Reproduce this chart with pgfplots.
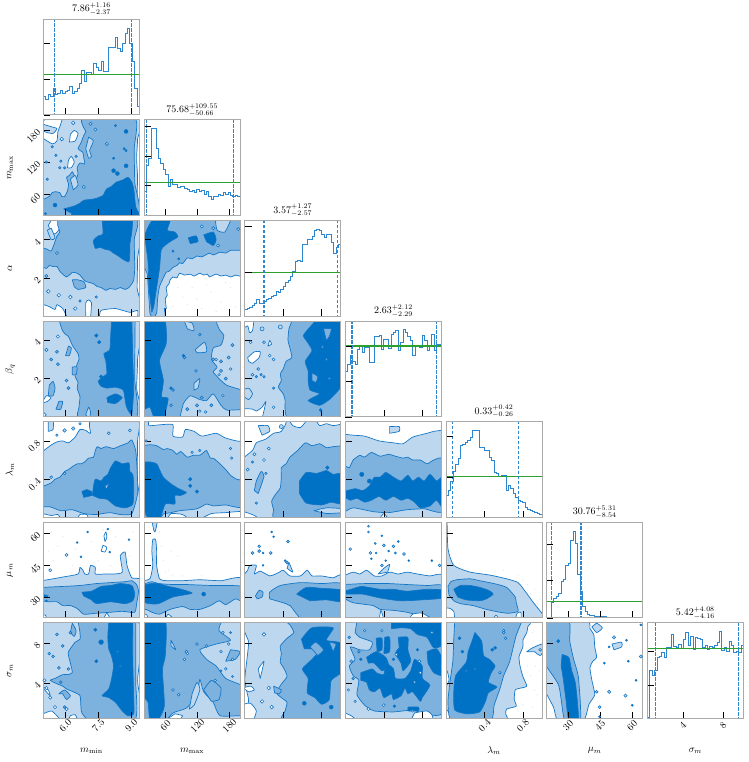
\documentclass[border=0pt]{standalone}
\usepackage{pgfplots}
\pgfplotsset{compat=1.18}
\definecolor{cL}{RGB}{189,215,238}
\definecolor{cM}{RGB}{125,178,222}
\definecolor{cD}{RGB}{0,114,197}
\definecolor{cl}{RGB}{20,118,198}
\definecolor{ch}{RGB}{45,135,208}
\definecolor{cg}{RGB}{44,160,44}
\definecolor{cS}{RGB}{215,230,245}
\definecolor{fr}{RGB}{170,170,170}
\pgfplotsset{
 base/.style={scale only axis,width=96pt,height=95.6pt,anchor=south west,axis on top,
  tick align=inside,major tick length=6.7pt,xtick pos=bottom,ytick pos=left,
  tick style={black,line width=.5pt},axis line style={draw=fr,line width=1pt},
  xticklabels={},yticklabels={},minor tick num=0,
  xticklabel style={yshift=-7pt,rotate=45,anchor=center,font=\fontsize{10}{12}\selectfont},
  yticklabel style={xshift=-2pt,yshift=2pt,rotate=45,anchor=east,font=\fontsize{10}{12}\selectfont},
  every axis x label/.style={at={(axis description cs:0.5,0)},yshift=-32pt,anchor=center},
  every axis y label/.style={at={(axis description cs:0,0.5)},xshift=-33.5pt,rotate=90,anchor=center},
  title style={at={(0.5,1)},yshift=-5.5pt,anchor=south},
 },
 pos/.style 2 args={at={({(43.5+#1*100.65)*1pt},{(762-115-#2*100.6)*1pt})}},
 cx0/.style={xmin=5,xmax=9.37,xtick={6,7.5,9},x filter/.expression={5+x*0.0437}},
 cx1/.style={xmin=20,xmax=200,xtick={60,120,180},x filter/.expression={20+x*1.8}},
 cx2/.style={xmin=0,xmax=5,xtick={2,4},x filter/.expression={x*0.05}},
 cx3/.style={xmin=0,xmax=5,xtick={2,4},x filter/.expression={x*0.05}},
 cx4/.style={xmin=0,xmax=1,xtick={0.4,0.8},x filter/.expression={x*0.01}},
 cx5/.style={xmin=20,xmax=65,xtick={30,45,60},x filter/.expression={20+x*0.45}},
 cx6/.style={xmin=0.5,xmax=10,xtick={4,8},x filter/.expression={0.5+x*0.095}},
 cy1/.style={ymin=20,ymax=200,ytick={60,120,180},y filter/.expression={20+y*1.8}},
 cy2/.style={ymin=0,ymax=5,ytick={2,4},y filter/.expression={y*0.05}},
 cy3/.style={ymin=0,ymax=5,ytick={2,4},y filter/.expression={y*0.05}},
 cy4/.style={ymin=0,ymax=1,ytick={0.4,0.8},y filter/.expression={y*0.01}},
 cy5/.style={ymin=20,ymax=65,ytick={30,45,60},y filter/.expression={20+y*0.45}},
 cy6/.style={ymin=0.5,ymax=10,ytick={4,8},y filter/.expression={0.5+y*0.095}},
 dg/.style={ymin=0,ymax=100},
 cn/.style={draw=cl,line width=.7pt,line join=round,smooth,tension=.35,forget plot},
}
\newcommand\Lt[1]{\addplot[cn,fill=cL] coordinates {#1} -- cycle;}
\newcommand\Md[1]{\addplot[cn,fill=cM] coordinates {#1} -- cycle;}
\newcommand\Dk[1]{\addplot[cn,fill=cD] coordinates {#1} -- cycle;}
\newcommand\Wh[1]{\addplot[cn,fill=white] coordinates {#1} -- cycle;}
\newcommand\dW[2]{\addplot[only marks,forget plot,mark=*,mark size=#1,mark options={draw=cl,fill=white,line width=.6pt}] coordinates {#2};}
\newcommand\dL[2]{\addplot[only marks,forget plot,mark=*,mark size=#1,mark options={draw=cl,fill=cL,line width=.6pt}] coordinates {#2};}
\newcommand\dM[2]{\addplot[only marks,forget plot,mark=*,mark size=#1,mark options={draw=cl,fill=cM,line width=.6pt}] coordinates {#2};}
\newcommand\dD[2]{\addplot[only marks,forget plot,mark=*,mark size=#1,mark options={draw=cl,fill=cD,line width=.4pt}] coordinates {#2};}
\newcommand\Sc[1]{\addplot[only marks,forget plot,mark=*,mark size=.5,mark options={draw=cS,fill=cS,line width=.1pt}] coordinates {#1};}
\newcommand\Hh[4]{%
 \addplot[const plot,draw=ch,line width=.95pt,forget plot] coordinates {#1};
 \addplot[cg,line width=1.1pt,forget plot] coordinates {(-2,#2)(102,#2)};
 \addplot[ch,line width=1.1pt,dash pattern=on 3.5pt off 1.5pt,forget plot] coordinates {(#3,-2)(#3,102)};
 \addplot[ch,line width=1.1pt,dash pattern=on 3.5pt off 1.5pt,forget plot] coordinates {(#4,-2)(#4,102)};
}
\begin{document}
\begin{tikzpicture}
\useasboundingbox (0,0) rectangle (748pt,762pt);
% ---------- diagonal
\begin{axis}[base,pos={0}{0},cx0,dg,ytick={0,37.5,75},title={$7.86^{+1.16}_{-2.37}$}]
\Hh{(0,19)(2.5,16)(5,21)(7.5,19)(10,28)(12.5,21)(15,23)(17.5,26)(20,23)(22.5,25)(25,26)(27.5,30)(30,23)(32.5,25)(35,28)(37.5,33)(40,47)(42.5,35)(45,44)(47.5,44)(50,42)(52.5,54)(55,50)(57.5,47)(60,56)(62.5,46)(65,46)(67.5,71)(70,71)(72.5,71)(75,81)(77.5,70)(80,66)(82.5,75)(85,85)(87.5,91)(90,75)(92.5,56)(95,28)(97.5,9)(100,0)}{42.5}{11.2}{92}
\end{axis}
\begin{axis}[base,pos={1}{1},cx1,dg,ytick={0,31.5,62.5,93},title={$75.68^{+109.55}_{-50.66}$}]
\Hh{(0,25)(2.5,52)(5,60)(7.5,91)(10,91)(12.5,70)(15,60)(17.5,55)(20,48)(22.5,43)(25,30)(27.5,38)(30,33)(32.5,33)(35,29)(37.5,30)(40,30)(42.5,28)(45,27)(47.5,25)(50,26)(52.5,24)(55,27)(57.5,25)(60,26)(62.5,22)(65,25)(67.5,20)(70,17)(72.5,20)(75,20)(77.5,22)(80,21)(82.5,24)(85,22)(87.5,24)(90,21)(92.5,20)(95,21)(97.5,20)(100,20)}{35}{2.8}{92.9}
\end{axis}
\begin{axis}[base,pos={2}{2},cx2,dg,ytick={0,46,94},title={$3.57^{+1.27}_{-2.57}$}]
\Hh{(0,7)(2.5,8)(5,9)(7.5,11)(10,13)(12.5,18)(15,13)(17.5,13)(20,15)(22.5,17)(25,19)(27.5,21)(30,22)(32.5,26)(35,25)(37.5,28)(40,31)(42.5,35)(45,37)(47.5,42)(50,47)(52.5,57)(55,58)(57.5,57)(60,75)(62.5,75)(65,80)(67.5,80)(70,83)(72.5,90)(75,91)(77.5,90)(80,85)(82.5,82)(85,86)(87.5,86)(90,77)(92.5,66)(95,72)(97.5,75)(100,75)}{46}{20}{96.8}
\end{axis}
\begin{axis}[base,pos={3}{3},cx3,dg,ytick={0,37,74},title={$2.63^{+2.12}_{-2.29}$}]
\Hh{(0,47)(2.5,55)(5,64)(7.5,58)(10,55)(12.5,70)(15,75)(17.5,67)(20,72)(22.5,72)(25,57)(27.5,57)(30,84)(32.5,84)(35,85)(37.5,70)(40,81)(42.5,81)(45,71)(47.5,86)(50,88)(52.5,90)(55,69)(57.5,78)(60,91)(62.5,88)(65,84)(67.5,80)(70,64)(72.5,75)(75,75)(77.5,73)(80,85)(82.5,80)(85,69)(87.5,75)(90,86)(92.5,69)(95,76)(97.5,76)(100,76)}{74}{6.8}{95}
\end{axis}
\begin{axis}[base,pos={4}{4},cx4,dg,ytick={0,42.5,85},title={$0.33^{+0.42}_{-0.26}$}]
\Hh{(0,23)(2.5,28)(5,38)(7.5,48)(10,55)(12.5,62)(15,75)(17.5,76)(20,78)(22.5,80)(25,84)(27.5,91)(30,91)(32.5,91)(35,73)(37.5,73)(40,70)(42.5,70)(45,63)(47.5,60)(50,47)(52.5,46)(55,43)(57.5,44)(60,44)(62.5,28)(65,33)(67.5,30)(70,25)(72.5,21)(75,18)(77.5,17)(80,16)(82.5,10)(85,8)(87.5,7)(90,6)(92.5,5)(95,4)(97.5,3)(100,3)}{42.5}{7}{75}
\end{axis}
\begin{axis}[base,pos={5}{5},cx5,dg,ytick={0,39,77},title={$30.76^{+5.31}_{-8.54}$}]
\Hh{(0,1)(2.5,1)(5,16)(7.5,20)(10,23)(12.5,26)(15,38)(17.5,40)(20,55)(22.5,57)(25,81)(27.5,91)(30,78)(32.5,46)(35,28)(37.5,12)(40,7)(42.5,4)(45,3)(47.5,2.5)(50,2)(52.5,2)(55,1.5)(57.5,1.5)(60,1.5)(62.5,1)(65,1)(67.5,1)(70,1)(72.5,1)(75,1)(77.5,1)(80,1)(82.5,1)(85,1)(87.5,1)(90,1)(92.5,1)(95,1)(97.5,1)(100,1)}{17.5}{4.9}{35.7}
\end{axis}
\begin{axis}[base,pos={6}{6},cx6,dg,ytick={0,35,70},xticklabels={4,8},xlabel={$\sigma_m$},title={$5.42^{+4.08}_{-4.16}$}]
\Hh{(0,1)(2.5,50)(5,45)(7.5,50)(10,64)(12.5,65)(15,69)(17.5,64)(20,74)(22.5,74)(25,88)(27.5,75)(30,74)(32.5,78)(35,73)(37.5,83)(40,90)(42.5,76)(45,86)(47.5,72)(50,85)(52.5,84)(55,83)(57.5,74)(60,77)(62.5,72)(65,75)(67.5,74)(70,76)(72.5,80)(75,91)(77.5,71)(80,74)(82.5,70)(85,81)(87.5,76)(90,69)(92.5,70)(95,69)(97.5,76)(100,76)}{73.5}{8}{94.7}
\end{axis}
% ---------- column 0
\begin{axis}[base,pos={0}{1},cx0,cy1,yticklabels={60,120,180},ylabel={$m_{\mathrm{max}}$}]
\Lt{(-2,-2)(98,-2)(97.5,20)(98,40)(97,60)(98,80)(97.5,102)(-2,102)}
\Wh{(-2,98)(5,102)(19,102)(17,93)(15,88)(14,78)(9,75)(-2,82)}
\Lt{(-2,96)(8,93)(14,91)(10,86)(3,87)(-2,90)}
\Wh{(27,77)(33,78)(36,86)(32,89)(28,85)}
\Wh{(25,50)(29,50)(32,56)(29,62)(26,58)}
\dW{1.8}{(19,80)(31,97)}
\dM{1.2}{(3,56)(13,63)(18,57)(9,72)(17,50)(22,50)(4,38)(34,62)}
\Md{(-2,16)(6,20)(9,24)(12,25)(17,24)(19,20)(22,20)(25,26)(26,33)(24,40)(27,42)(30,46)(32,42)(34,38)(36,44)(35,50)(38,55)(43,54)(42,60)(41,66)(36,70)(39,76)(42,84)(44,88)(41,94)(42,102)(95,102)(94.5,70)(95,35)(96,-2)(-2,-2)}
\Lt{(31,27)(36,32)(33,42)(28,38)}
\Lt{(44,70)(47,60)(50,62)(48,68)(52,78)(47,82)}
\dL{1.6}{(66,75)(54,90)(49,96)(42,30)}
\Dk{(21,7)(32,10)(38,13)(42,16)(50,17)(55,18)(62,21)(64,25)(66,28)(70,30)(76,35)(82,37)(88,40)(92,35)(94,28)(95,18)(96,9)(97,-2)(32,-2)(30,2)}
\dD{2}{(12,11)(86,88)(86,52)(73,47)(77,44)}
\dD{1.2}{(2,2)(86,68)(73,60)(84,70)(75,94)}
\end{axis}
\begin{axis}[base,pos={0}{2},cx0,cy2,yticklabels={2,4},ylabel={$\alpha$}]
\Lt{(-2,-2)(98,-2)(97.5,30)(98,60)(97.5,102)(-2,102)}
\Wh{(-2,-2)(-2,12)(6,10)(12,7)(14,12)(20,8)(25,-2)}
\Wh{(44,-2)(44,14)(47,17)(50,14)(49,-2)}
\Wh{(58,-2)(60,6)(75,8)(90,4)(98,6)(98,-2)}
\Wh{(5,95)(10,102)(20,102)(17,92)(12,86)(8,88)}
\dW{1.8}{(5,26)(16,22)(28,20)(33,8)}
\dM{1.2}{(38,16)(55,20)}
\Md{(-2,52)(3,50)(6,53)(10,52)(14,52)(17,47)(20,44)(24,41)(28,44)(30,46)(35,45)(38,43)(42,38)(45,36)(49,35)(52,34)(56,31)(60,30)(65,27)(69,29)(75,28)(80,30)(85,28)(89,30)(92,34)(94,38)(95,50)(94.5,80)(95,102)(18,102)(17,88)(14,84)(12,78)(8,68)(4,70)(-2,72)}
\Lt{(4,90)(8,80)(12,82)(8,92)}
\Md{(30,38)(36,38)(42,36)(44,30)(36,28)(32,31)}
\dL{1.5}{(3,42)(14,66)}
\Dk{(61,102)(62,86)(57,84)(52,79)(54,71)(59,72)(64,70)(69,69)(73,66)(78,63)(82,60)(89,57)(90,70)(90,76)(92,88)(93,102)}
\end{axis}
\begin{axis}[base,pos={0}{3},cx0,cy3,yticklabels={2,4},ylabel={$\beta_q$}]
\Lt{(-2,-2)(97,-2)(97,30)(98,60)(97,102)(-2,102)}
\Wh{(-2,14)(3,22)(8,20)(4,16)}
\Wh{(-2,-2)(-2,6)(3,2)}
\dW{1.6}{(15,84)(3,70)}
\Md{(16,102)(19,92)(22,87)(26,84)(30,75)(36,66)(37,60)(35,55)(33,48)(33,42)(36,36)(35,30)(38,21)(37,10)(38,-2)(96,-2)(95,40)(95.5,102)}
\Lt{(44,2)(47,10)(49,5)(48,-2)}
\Md{(5,22)(10,22)(12,30)(10,37)(6,33)}
\Md{(23,64)(27,64)(29,72)(26,74)}
\Md{(13,8)(18,8)(20,16)(16,16)}
\Md{(30,44)(34,44)(35,52)(30,52)}
\dM{1.5}{(14,68)(8,60)(24,38)(15,55)(26,30)}
\Dk{(71,102)(70,85)(69,70)(63,66)(65,58)(66,45)(62,42)(57,37)(60,32)(66,30)(75,31)(83,28)(85,18)(86,12)(88,7)(92,3)(94,30)(93,60)(92,102)}
\Dk{(66,20)(75,24)(82,20)(75,14)(67,15)}
\dD{1.8}{(58,78)(55,85)(60,42)}
\end{axis}
\begin{axis}[base,pos={0}{4},cx0,cy4,yticklabels={0.4,0.8},ylabel={$\lambda_m$}]
\Lt{(-2,-2)(97,-2)(97.5,40)(98,80)(98,102)(50,102)(49,88)(44,91)(38,92)(33,84)(26,78)(20,80)(14,79)(7,75)(-2,68)}
\Lt{(5,90)(10,92)(10,102)(5,102)}
\Wh{(-2,-2)(-2,4)(8,2)(15,3)(18,-2)}
\Wh{(35,-2)(38,3)(45,3)(47,-2)}
\dL{1.8}{(22,91)(31,93)}
\dW{1.4}{(68,88)(90,91)}
\dL{1.2}{(38,98)(14,86)}
\Md{(-2,32)(8,36)(12,40)(17,42)(22,48)(26,50)(30,53)(35,56)(39,56)(43,58)(47,62)(52,63)(54,70)(56,74)(60,72)(65,74)(73,72)(78,74)(83,76)(88,78)(92,81)(96,70)(97.5,50)(98,25)(92,4)(80,3)(69,5)(55,3)(42,4)(30,8)(18,7)(7,11)(-2,11)}
\dL{1.4}{(22,46)(8,42)}
\Dk{(40,27)(45,29)(50,27)(50,23)(42,21)}
\Dk{(51,23)(52,32)(54,40)(60,38)(63,42)(67,45)(70,52)(75,59)(82,56)(89,57)(90,48)(93,45)(94,32)(93,14)(85,10)(75,12)(70,16)(66,19)(58,20)}
\Lt{(64,32)(68,36)(66,30)}
\end{axis}
\begin{axis}[base,pos={0}{5},cx0,cy5,yticklabels={30,45,60},ylabel={$\mu_m$}]
\Sc{(10,60)(15,75)(30,55)(20,85)(40,65)(50,80)(57,60)(70,55)(75,85)(90,65)(8,90)(33,72)(62,92)(93,90)(5,70)}
\Lt{(-2,39)(10,41)(21,43)(36,46)(38,53)(41,50)(43,46)(47,46)(49,55)(54,53)(54,46)(64,46)(73,46)(82,48)(80,65)(85,69)(87,55)(92,42)(102,39)(102,-2)(-2,-2)}
\Wh{(-2,-2)(-2,3)(2,3)(4,-2)}
\Wh{(62,-2)(66,5)(70,-2)}
\Md{(-2,32)(20,33)(38,34)(55,36)(70,37)(85,38)(92,39)(97,35)(99,28)(97,15)(95,6)(82,7)(70,6)(55,5)(42,4)(35,10)(28,13)(20,13)(14,17)(5,17)(-2,18)}
\Dk{(40,27)(50,28)(60,33)(70,34)(80,36)(92,34)(95,25)(93,18)(85,15)(70,17)(55,15)(50,19)(42,23)}
\Dk{(-2,25)(5,23)(-2,21)}
\dD{1}{(46,90)(67,93)(89,82)(35,79)(39,64)(69,69)(3,18)}
\dW{1.5}{(24,66)(7,50)}
\Wh{(60,70)(64,69)(66,74)(62,76)}
\Wh{(64,80)(66,84)(65,90)(63,86)}
\end{axis}
\begin{axis}[base,pos={0}{6},cx0,cy6,yticklabels={4,8},xticklabels={6.0,7.5,9.0},ylabel={$\sigma_m$},xlabel={$m_{\mathrm{min}}$}]
\Lt{(-2,-2)(97.5,-2)(98,40)(97.5,102)(-2,102)}
\Wh{(-2,-2)(-2,4)(8,8)(14,3)(18,-2)}
\Wh{(26,-2)(28,3)(33,4)(36,-2)}
\Wh{(3,28)(7,24)(5,30)(-2,34)}
\dW{1.6}{(7,22)(3,32)(12,12)(24,10)(1,40)}
\Md{(16,26)(22,30)(28,24)(24,20)(20,26)}
\dM{1.4}{(10,65)(20,76)(28,90)(16,53)(26,52)(14,88)(6,68)(18,38)(22,12)}
\Md{(30,100)(34,92)(32,86)(28,90)}
\Md{(36,102)(38,90)(38,83)(33,80)(30,76)(26,70)(26,66)(28,58)(30,48)(25,46)(20,46)(12,42)(7,40)(15,36)(20,34)(24,31)(31,28)(38,24)(39,12)(40,6)(49,-2)(95,-2)(96,40)(96,102)}
\Dk{(68,102)(67,85)(68,73)(71,65)(73,55)(71,42)(68,31)(61,24)(68,22)(75,17)(82,8)(88,3)(94,5)(94,20)(93,60)(93,102)}
\dD{2.4}{(60,80)}
\dD{1.7}{(54,93)(55,60)}
\dM{1}{(77,70)(80,55)}
\end{axis}
% ---------- column 1
\begin{axis}[base,pos={1}{2},cx1,cy2]
\Sc{(30,10)(40,20)(50,30)(60,8)(70,25)(80,15)(90,30)(95,10)(45,12)(35,30)(55,18)(75,5)(85,35)(65,33)}
\Lt{(-2,-2)(21,-2)(21,8)(23,8)(22,18)(24,22)(23,30)(26,34)(27,38)(30,41)(34,40)(37,45)(42,43)(48,44)(52,42)(58,45)(62,43)(66,44)(68,41)(75,44)(80,42)(85,43)(90,41)(95,43)(102,45)(102,102)(-2,102)}
\Md{(6,3)(9,-2)(13,3)(14,18)(16,31)(20,40)(23,46)(26,47)(30,51)(34,53)(37,56)(40,55)(45,61)(50,60)(55,63)(60,62)(68,66)(72,64)(79,67)(85,66)(90,69)(96,69)(102,71)(102,102)(-2,102)(-2,58)(3,45)(4,34)(5,18)}
\Lt{(74,102)(76,90)(84,88)(90,100)(90,102)}
\dL{1.6}{(77,74)(98,91)(72,92)(60,94)}
\Dk{(8,4)(5,30)(4,58)(1,85)(10,102)(27,102)(24,90)(32,88)(35,83)(27,78)(18,70)(16,50)(13,30)(10,10)}
\Dk{(62,85)(72,88)(75,80)(72,74)(65,78)}
\Dk{(46,82)(54,84)(56,78)(48,76)}
\dD{1.2}{(36,60)(30,68)}
\end{axis}
\begin{axis}[base,pos={1}{3},cx1,cy3]
\Md{(-2,-2)(102,-2)(102,102)(-2,102)}
\Lt{(102,102)(76,102)(78,92)(83,85)(80,75)(72,72)(70,60)(76,52)(72,47)(78,40)(86,33)(102,28)}
\Lt{(37,-2)(41,14)(48,22)(58,18)(65,17)(72,24)(80,12)(86,7)(102,7)(102,-2)}
\Lt{(42,100)(50,98)(52,90)(45,92)}
\Lt{(53,70)(63,78)(65,68)(55,67)}
\Lt{(52,35)(58,40)(56,30)(52,28)}
\dM{1.6}{(72,60)(80,58)(88,62)(92,75)(80,48)(85,40)(60,20)(55,12)(70,12)(45,8)}
\dW{1.3}{(75,60)(78,44)(90,50)(58,6)(64,5)(82,22)}
\dM{1.4}{(58,86)(42,62)(30,28)(28,12)(54,48)}
\Dk{(-2,102)(21,102)(23,77)(16,59)(20,38)(18,21)(25,19)(20,-2)(11,-2)(6,10)(0,8)(-2,20)}
\dD{1.5}{(41,64)(28,30)}
\end{axis}
\begin{axis}[base,pos={1}{4},cx1,cy4]
\Lt{(-2,-2)(102,-2)(102,102)(-2,102)}
\Wh{(5,102)(5,96)(18,97)(30,97)(30,85)(40,84)(43,92)(52,90)(60,85)(75,88)(85,83)(102,80)(102,102)}
\Wh{(58,-2)(70,4)(85,5)(102,6)(102,-2)}
\Wh{(24,-2)(28,4)(40,3)(47,-2)}
\dL{1.2}{(2,80)(90,72)}
\Md{(-2,75)(6,76)(13,75)(20,71)(24,72)(30,70)(34,66)(38,69)(45,63)(51,65)(58,65)(62,68)(65,70)(69,62)(72,62)(79,56)(85,50)(90,44)(96,40)(102,37)(102,11)(85,13)(72,12)(65,14)(55,9)(37,7)(28,5)(20,3.5)(16,-2)(4,-2)(-2,11)}
\dL{1.2}{(58,70)(50,68)(91,62)}
\Dk{(-2,58)(6,58)(13,56)(16,50)(20,42)(28,35)(36,30)(44,26)(38,23)(32,23)(32,14)(22,14)(16,-2)(5,-2)(-2,14)}
\dD{1.8}{(48,40)(48,33)(55,27)}
\end{axis}
\begin{axis}[base,pos={1}{5},cx1,cy5]
\Sc{(20,60)(25,50)(18,75)(30,45)(35,65)(16,90)(22,48)(40,44)(28,70)(60,44)}
\Lt{(-2,39)(6,41)(9,55)(8,70)(9,82)(12,82)(13,70)(13,55)(16,41)(23,39)(40,39)(58,40)(80,39)(102,41)(102,-2)(-2,-2)}
\Lt{(8,102)(10,92)(11,90)(12,92)(14,102)}
\Wh{(-2,-2)(-2,5)(3,3)(4,-2)}
\Wh{(22,-2)(25,4)(32,-2)}
\Md{(-2,35)(8,38)(15,36)(30,35)(44,35)(70,34)(102,33)(102,18)(95,20)(85,14)(78,18)(69,13)(58,9)(48,9)(40,12)(27,9)(16,4)(8,6)(2,9)(-2,8)}
\Dk{(-2,34)(7,36)(15,36)(25,33)(35,31)(50,26)(30,22)(15,15)(5,15)(-2,17)}
\dD{2}{(62,25)}
\end{axis}
\begin{axis}[base,pos={1}{6},cx1,cy6,xticklabels={60,120,180},xlabel={$m_{\mathrm{max}}$}]
\Md{(-2,-2)(102,-2)(102,102)(-2,102)}
\Lt{(102,102)(82,102)(78,92)(90,82)(75,78)(58,72)(65,62)(75,55)(85,42)(102,35)}
\Lt{(23,-2)(30,6)(44,11)(55,24)(58,41)(62,28)(72,17)(79,3)(102,3)(102,-2)}
\Lt{(28,82)(33,72)(28,76)}
\Lt{(47,10)(52,14)(58,30)(55,38)(50,26)}
\Md{(62,30)(70,40)(80,32)(78,20)(70,18)}
\Md{(85,60)(95,62)(100,70)(90,72)}
\Wh{(22,-2)(35,-2)(40,3)(32,5)}
\dW{1.3}{(80,70)(82,90)(88,78)(74,40)(45,68)(85,52)(42,62)(92,62)}
\dL{1.4}{(44,70)(30,30)(36,25)(55,78)(65,76)}
\dM{1}{(90,90)(80,50)(92,44)}
\Dk{(-2,102)(22,102)(22,66)(19,51)(21,13)(14,-2)(6,-2)(4,17)(-2,24)}
\end{axis}
% ---------- column 2
\begin{axis}[base,pos={2}{3},cx2,cy3]
\Lt{(-2,-2)(102,-2)(102,102)(-2,102)}
\Wh{(-2,92)(3,95)(5,88)(8,90)(9,102)(-2,102)}
\Wh{(3,62)(10,68)(16,68)(15,62)(8,56)(4,58)}
\Wh{(-2,-2)(-2,8)(8,8)(12,6)(18,10)(22,16)(18,-2)}
\Wh{(24,74)(28,76)(26,80)}
\Lt{(-2,28)(4,30)(8,24)(4,18)(-2,22)}
\dW{1.4}{(20,78)(6,78)(26,64)(14,50)(30,10)(8,44)(30,60)}
\dL{2}{(37,94)(18,92)}
\dM{1.2}{(20,42)(12,42)(30,30)(17,44)}
\Md{(50,102)(46,92)(45,80)(47,72)(49,62)(43,58)(40,50)(37,45)(38,38)(35,31)(40,24)(42,17)(42,8)(47,-2)(102,-2)(102,102)}
\Dk{(75,102)(68,94)(61,85)(66,77)(70,69)(63,58)(66,48)(66,38)(68,28)(78,24)(66,17)(78,12)(88,18)(96,26)(102,38)(102,102)}
\Md{(82,92)(90,92)(88,84)(85,80)}
\Md{(70,46)(76,42)(74,36)(70,38)}
\dM{1.3}{(81,73)(88,40)(85,60)}
\dD{1.6}{(79,7)}
\end{axis}
\begin{axis}[base,pos={2}{4},cx2,cy4]
\Lt{(-2,-2)(102,-2)(102,102)(-2,102)}
\Wh{(-2,102)(42,102)(38,90)(30,88)(22,82)(12,78)(8,70)(-2,62)}
\Wh{(46,102)(50,96)(58,94)(65,102)}
\Wh{(74,102)(78,96)(85,98)(92,96)(102,98)(102,102)}
\Wh{(-2,-2)(-2,6)(10,2)(15,-2)}
\Lt{(14,96)(24,96)(26,90)(18,86)}
\dL{2}{(38,95)}
\dW{1.5}{(3,50)(10,66)(25,72)(20,60)}
\dM{1.2}{(22,46)(8,58)(12,15)}
\Md{(14,25)(20,43)(17,48)(12,38)(10,28)}
\Md{(102,75)(92,74)(85,73)(78,77)(70,75)(63,78)(55,70)(47,63)(43,56)(38,52)(38,42)(37,31)(32,24)(28,17)(30,8)(33,-2)(102,-2)}
\Lt{(72,7)(85,10)(102,9)(102,5)(85,4)}
\Dk{(57,38)(64,47)(75,46)(85,49)(92,45)(102,45)(102,15)(90,16)(80,13)(64,15)(57,25)}
\dD{1.8}{(86,52)}
\end{axis}
\begin{axis}[base,pos={2}{5},cx2,cy5]
\Lt{(-2,44)(3,50)(5,55)(12,55)(10,46)(16,49)(26,44)(32,46)(36,48)(40,50)(47,44)(58,44)(65,50)(70,44)(80,44)(92,42)(102,44)(102,-2)(-2,-2)}
\Wh{(78,-2)(82,3)(85,-2)}
\Md{(26,20)(26,27)(37,34)(58,37)(80,36)(102,35)(102,-2)(61,-2)(47,13)(33,18)}
\Md{(11,23)(15,29)(19,27)(18,22)(13,20)}
\Dk{(54,25)(64,32)(80,31)(102,29)(102,17)(85,19)(68,18)}
\dL{1.4}{(27,68)(45,80)(15,75)}
\dM{1.5}{(15,70)(8,68)(44,58)}
\dD{1}{(30,85)(19,68)(28,90)(42,60)(19,55)}
\Lt{(44,52)(50,48)(46,58)}
\end{axis}
\begin{axis}[base,pos={2}{6},cx2,cy6]
\Lt{(2,-2)(102,-2)(102,102)(2,102)(4,80)(2,60)(0,40)(4,20)}
\Wh{(-2,-2)(-2,14)(6,16)(12,8)(9,-2)}
\Wh{(-2,32)(6,34)(10,30)(4,28)}
\dW{1.8}{(25,32)(18,18)(28,12)(20,88)}
\Wh{(16,42)(20,60)(14,52)}
\Md{(42,102)(47,98)(51,90)(44,84)(37,76)(38,68)(37,59)(41,52)(44,44)(38,36)(33,27)(38,22)(44,17)(42,8)(40,-2)(102,-2)(102,102)}
\Md{(30,34)(38,30)(36,26)(31,27)}
\Dk{(59,83)(70,95)(92,95)(85,82)(102,78)(102,50)(90,40)(88,20)(80,15)(73,22)(65,27)(66,42)(60,52)(70,62)(78,72)(62,73)}
\Md{(68,75)(74,80)(82,72)(76,66)}
\Md{(88,80)(95,78)(92,70)}
\dD{2}{(62,16)(90,12)}
\end{axis}
% ---------- column 3
\begin{axis}[base,pos={3}{4},cx3,cy4]
\Lt{(-2,-2)(102,-2)(102,102)(-2,102)}
\Wh{(-2,102)(-2,88)(8,86)(20,85)(35,80)(50,78)(60,77)(70,84)(85,88)(92,90)(102,92)(102,102)}
\Lt{(46,95)(56,95)(56,90)(46,88)}
\Wh{(35,-2)(40,4)(45,-2)}
\Md{(-2,55)(4,52)(8,60)(15,65)(20,63)(27,68)(36,64)(45,66)(52,64)(60,62)(65,63)(70,60)(78,60)(85,56)(92,60)(102,60)(102,7)(82,9)(64,8)(45,5)(29,6)(8,10)(-2,5)}
\Dk{(-2,27)(10,30)(18,28)(25,33)(30,42)(36,42)(42,47)(50,42)(58,38)(65,44)(70,38)(76,42)(82,38)(88,45)(95,38)(102,42)(102,10)(95,18)(88,12)(78,10)(72,16)(65,20)(58,18)(50,22)(42,18)(35,22)(27,18)(20,16)(12,20)(5,18)(-2,22)}
\dD{2.2}{(17,45)(25,38)}
\end{axis}
\begin{axis}[base,pos={3}{5},cx3,cy5]
\Lt{(-2,44)(8,48)(15,46)(22,50)(30,44)(38,44)(46,48)(55,46)(64,48)(75,46)(88,44)(102,44)(102,-2)(-2,-2)}
\Lt{(34,46)(40,52)(46,56)(44,48)}
\Md{(-2,35)(20,36)(45,36)(64,35)(85,34)(102,33)(102,-2)(64,6)(50,8)(36,9)(29,13)(8,16)(-2,21)}
\Wh{(35,-2)(37,8)(40,-2)}
\Wh{(66,-2)(70,4)(80,5)(92,-2)}
\Dk{(-2,28)(6,30)(17,33)(36,30)(50,30)(64,28)(85,30)(102,29)(102,21)(80,19)(57,18)(36,21)(18,25)(6,25)(-2,25)}
\dL{1.4}{(26,68)(40,76)(50,75)(5,72)(61,67)(38,55)(98,55)}
\dL{1}{(24,90)(24,96)(31,78)(52,68)}
\dD{1}{(42,60)(66,60)(90,60)(27,62)(38,86)(55,80)(32,68)(45,70)}
\end{axis}
% ---------- beta-sigma
\begin{axis}[base,pos={3}{6},cx3,cy6]
\Lt{(-2,-2)(102,-2)(102,102)(-2,102)}
\Md{(12,102)(102,102)(102,8)(80,6)(70,9)(50,7)(30,8)(20,14)(12,25)(14,40)(8,45)(4,55)(10,62)(5,75)(15,72)(25,72)(28,80)(15,85)(10,90)}
\Dk{(48,102)(102,102)(102,78)(92,74)(85,85)(75,88)(68,94)(58,95)(48,94)}
\Dk{(32,84)(38,84)(38,72)(33,70)}
\Dk{(41,85)(46,85)(46,70)(40,68)}
\Dk{(55,85)(65,85)(65,72)(68,60)(60,50)(58,58)(52,68)(56,74)}
\Dk{(22,64)(32,70)(42,64)(45,55)(38,50)(30,58)(24,58)}
\Dk{(16,48)(28,52)(32,48)(40,46)(42,58)(50,52)(52,42)(62,42)(68,50)(72,62)(80,55)(80,42)(88,35)(80,22)(78,18)(70,28)(65,26)(62,32)(58,24)(50,20)(48,26)(40,22)(36,32)(30,28)(25,30)(22,38)(16,40)}
\Dk{(85,70)(95,73)(102,60)(102,45)(92,48)(86,58)}
\Dk{(65,12)(76,12)(76,8)(65,8)}
\dD{1.4}{(51,13)(16,62)(50,62)(75,72)}
\Wh{(68,-2)(90,-2)(90,4)(85,8)(72,6)}
\Wh{(-2,-2)(-2,6)(6,3)(12,-2)}
\dW{1.5}{(40,14)(24,10)(77,60)(78,48)(53,67)}
\dW{1.2}{(10,18)(20,92)(3,30)(38,92)(70,8)}
\dL{1.4}{(6,60)(72,38)(90,90)}
\dM{1.3}{(8,42)(14,70)(4,85)}
\end{axis}
% ---------- column 4
\begin{axis}[base,pos={4}{5},cx4,cy5]
\Sc{(85,35)(92,30)(75,45)(80,40)(95,15)(88,25)(60,50)(98,20)}
\Lt{(1,102)(2,72)(8,55)(25,48)(45,45)(63,41)(75,37)(83,27)(91,16)(102,2)(102,-2)(-2,-2)(-2,102)}
\Wh{(-2,-2)(-2,10)(4,10)(8,7)(9,-2)}
\Wh{(48,-2)(52,3)(56,-2)}
\Wh{(72,-2)(74,5)(78,6)(78,-2)}
\Md{(2,33)(5,38)(11,40)(25,41)(35,39)(50,36)(63,32)(72,22)(73,16)(75,7)(65,5)(56,6)(42,9)(28,13)(15,15)(8,18)(3,24)}
\Dk{(8,30)(15,34)(25,34)(35,32)(44,29)(49,25)(42,20)(35,18)(21,19)(12,22)}
\end{axis}
\begin{axis}[base,pos={4}{6},cx4,cy6,xticklabels={0.4,0.8},xlabel={$\lambda_m$}]
\Sc{(88,45)(92,30)(80,15)(75,8)(90,12)(95,25)(85,55)(97,50)(90,90)(93,55)}
\Lt{(-2,102)(84,102)(85,96)(84,90)(80,82)(80,75)(76,65)(77,55)(80,44)(84,34)(78,32)(72,30)(71,20)(73,13)(63,10)(62,5)(61,-2)(-2,-2)}
\Wh{(-2,30)(3,40)(1,50)(-2,50)}
\Wh{(-2,-2)(-2,12)(3,6)(6,-2)}
\Lt{(84,70)(90,74)(100,78)(102,72)(98,66)(92,70)}
\dL{1.4}{(60,90)(98,72)}
\Md{(9,102)(8,83)(7,60)(4,38)(2,17)(6,-2)(46,-2)(50,14)(56,31)(60,45)(66,59)(70,75)(73,87)(79,102)}
\dL{1.3}{(60,92)(62,84)(56,48)}
\Dk{(30,90)(37,81)(39,66)(45,62)(51,55)(47,48)(44,38)(53,33)(44,27)(41,18)(35,7)(22,5)(9,9)(8,28)(10,45)(21,59)(23,70)(27,81)}
\dD{1.6}{(51,74)(48,72)(17,70)(14,84)}
\dM{1}{(21,50)(30,52)}
\end{axis}
% ---------- column 5
\begin{axis}[base,pos={5}{6},cx5,cy6,xticklabels={30,45,60},xlabel={$\mu_m$}]
\Lt{(-2,102)(42,102)(45,94)(49,88)(50,75)(52,64)(48,60)(45,53)(47,40)(50,25)(44,15)(38,-2)(12,-2)(7,12)(-2,29)}
\Lt{(47,96)(52,90)(58,95)(52,100)}
\Lt{(68,78)(78,80)(78,75)(70,72)}
\dL{1.6}{(70,85)(65,28)(82,24)(98,65)}
\dL{1.4}{(55,12)(52,28)}
\dD{1.1}{(65,75)(60,58)(85,60)(83,82)(93,40)(89,14)(55,2)(98,98)}
\Md{(-2,102)(23,102)(24,81)(28,62)(33,43)(35,-2)(19,-2)(15,20)(12,36)(-2,57)}
\Dk{(16,67)(23,64)(26,50)(30,36)(33,-2)(23,-2)(20,20)(17,43)(15,55)}
\dD{1.7}{(12,81)}
\end{axis}
\end{tikzpicture}
\end{document}
